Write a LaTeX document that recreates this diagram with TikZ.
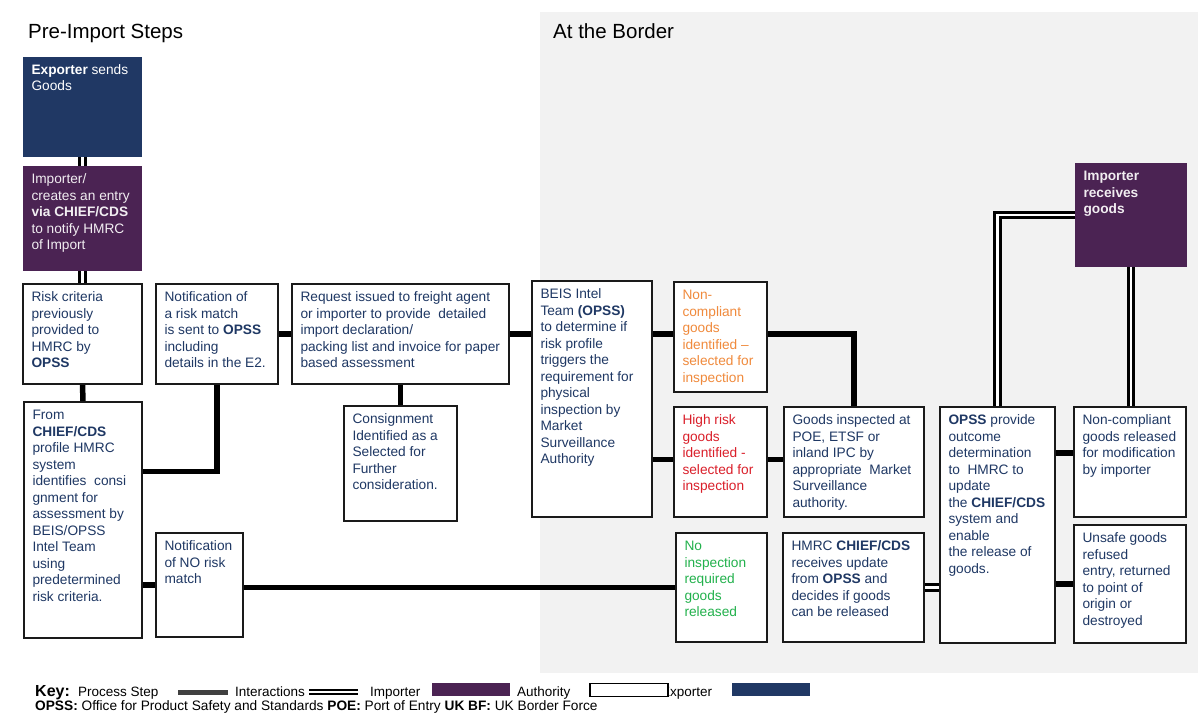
\documentclass[tikz,border=0pt]{standalone}
\usepackage{fontspec}
\setmainfont{Liberation Sans}
\definecolor{navy}{HTML}{1F3864}
\definecolor{expfill}{HTML}{203864}
\definecolor{impfill}{HTML}{4B2353}
\definecolor{orangetxt}{HTML}{F08A3C}
\definecolor{redtxt}{HTML}{DA1F2A}
\definecolor{greentxt}{HTML}{22B14C}
\definecolor{bggray}{HTML}{F2F2F2}
\definecolor{borderc}{HTML}{1A1A1A}
\definecolor{keybar}{HTML}{404040}
\pgfdeclarelayer{back}
\pgfdeclarelayer{links}
\pgfsetlayers{back,links,main}
\tikzset{
  stepbox/.style={rectangle, draw=borderc, line width=1.7pt, fill=white, inner sep=0pt, outer sep=0pt},
  impbox/.style={rectangle, draw=none, fill=impfill, inner sep=0pt, outer sep=0pt},
  expbox/.style={rectangle, draw=none, fill=expfill, inner sep=0pt, outer sep=0pt},
  boxtxt/.style={inner sep=0pt, outer sep=0pt, align=left, font=\fontsize{13.7}{16.5}\selectfont},
  proc/.style={line width=5.5pt, draw=black},
  inter/.style={draw=black, line width=2.8pt, double=white, double distance=2.6pt},
  title/.style={inner sep=0pt, anchor=base west, font=\fontsize{20.5}{24}\selectfont},
  keytxt/.style={inner sep=0pt, anchor=base west, font=\fontsize{13.5}{16}\selectfont},
}
% name, x1, y1, x2, y2, box style, text colour, text
\newcommand\mybox[8]{%
  \node[#6, anchor=north west, minimum width={#4-#2}, minimum height={#5-#3}] (#1) at (#2,#3) {};
  \node[boxtxt, text=#7, anchor=north west] (#1txt) at ([xshift=8.5pt,yshift=-6.5pt]#1.north west) {\rule{0pt}{11pt}#8};
}
\begin{document}
\begin{tikzpicture}[x=1pt,y=-1pt]
\useasboundingbox (0,0) rectangle (1198,714);
\begin{pgfonlayer}{back}
  \fill[bggray] (540,12) rectangle (1198,673);
\end{pgfonlayer}

\node[title] (t1) at (28,39) {Pre-Import Steps};
\node[title] (t2) at (553,39) {At the Border};

\mybox{exp}{23}{57}{142}{157}{expbox}{white}{\textbf{Exporter} sends\\Goods}
\mybox{imp}{23}{166}{142}{271}{impbox}{white!92!impfill}{Importer/\\creates an entry\\\textbf{via CHIEF/CDS}\\to notify HMRC\\of Import}
\mybox{risk}{23}{284}{142}{384}{stepbox}{navy}{Risk criteria\\previously\\provided to\\HMRC by\\\textbf{OPSS}}
\mybox{from}{24}{402}{142}{638}{stepbox}{navy}{From\\\textbf{CHIEF/CDS}\\profile HMRC\\system\\identifies\ \ consi\\gnment for\\assessment by\\BEIS/OPSS\\Intel Team\\using\\predetermined\\risk criteria.}
\mybox{notif}{156}{284}{278}{384}{stepbox}{navy}{Notification of\\a risk match\\is sent to \textbf{OPSS}\\including\\details in the E2.}
\mybox{notifno}{156}{533}{243}{637}{stepbox}{navy}{Notification\\of NO risk\\match}
\mybox{request}{292}{284}{509}{384}{stepbox}{navy}{Request issued to freight agent\\or importer to provide\ \ detailed\\import declaration/\\packing list and invoice for paper\\based assessment}
\mybox{consign}{344}{406}{457}{521}{stepbox}{navy}{Consignment\\Identified as a\\Selected for\\Further\\consideration.}
\mybox{beis}{532}{281}{652}{517}{stepbox}{navy}{BEIS Intel\\Team \textbf{(OPSS)}\\to determine if\\risk profile\\triggers the\\requirement for\\physical\\inspection by\\Market\\Surveillance\\Authority}
\mybox{nc}{674}{282}{767}{392}{stepbox}{orangetxt}{Non-\\compliant\\goods\\identified --\\selected for\\inspection}
\mybox{hr}{674}{407}{767}{517}{stepbox}{redtxt}{High risk\\goods\\identified -\\selected for\\inspection}
\mybox{noinsp}{676}{533}{767}{642}{stepbox}{greentxt}{No\\inspection\\required\\goods\\released}
\mybox{goods}{784}{407}{924}{517}{stepbox}{navy}{Goods inspected at\\POE, ETSF or\\inland IPC by\\appropriate\ \ Market\\Surveillance\\authority.}
\mybox{hmrc}{783}{533}{924}{642}{stepbox}{navy}{HMRC \textbf{CHIEF/CDS}\\receives update\\from \textbf{OPSS} and\\decides if goods\\can be released}
\mybox{opss}{940}{407}{1055}{643}{stepbox}{navy}{\textbf{OPSS} provide\\outcome\\determination\\to\ \ HMRC to\\update\\the \textbf{CHIEF/CDS}\\system and\\enable\\the release of\\goods.}
\mybox{ncr}{1074}{407}{1186}{517}{stepbox}{navy}{Non-compliant\\goods released\\for modification\\by importer}
\mybox{unsafe}{1074}{525}{1186}{643}{stepbox}{navy}{Unsafe goods\\refused\\entry, returned\\to point of\\origin or\\destroyed}
\mybox{imprec}{1075}{163}{1187}{267}{impbox}{white!92!impfill}{\textbf{Importer}\\\textbf{receives}\\\textbf{goods}}

\begin{pgfonlayer}{links}
  \draw[inter] (exp.south) -- (imp.north);
  \draw[inter] (imp.south) -- (risk.north);
  \draw[proc] (risk.south) -- (from.north);
  \draw[proc] (notif.south) |- ([yshift=-69.5pt]from.north east);
  \draw[proc] (notif.east) -- (notif.east -| request.west);
  \draw[proc] (request.south) -- (request.south |- consign.north);
  \draw[proc] (request.east) -- (request.east -| beis.west);
  \draw[proc] ([yshift=3pt]nc.west -| beis.east) -- ([yshift=3pt]nc.west);
  \draw[proc] ([yshift=3pt]nc.east) -| (goods.north);
  \draw[proc] ([yshift=2.5pt]hr.west -| beis.east) -- ([yshift=2.5pt]hr.west);
  \draw[proc] ([yshift=2.5pt]hr.east) -- ([yshift=2.5pt]hr.east -| goods.west);
  \draw[proc] (notifno.west -| from.east) -- (notifno.west);
  \draw[proc] ([yshift=-2.5pt]notifno.east) -- ([yshift=-2.5pt]notifno.east -| noinsp.west);
  \draw[inter] (hmrc.east) -- (hmrc.east -| opss.west);
  \draw[proc] ([yshift=9pt]ncr.west -| opss.east) -- ([yshift=9pt]ncr.west);
  \draw[proc] (unsafe.west -| opss.east) -- (unsafe.west);
  \draw[inter] (opss.north) |- (imprec.west);
  \draw[inter] (imprec.south) -- (imprec.south |- ncr.north);
\end{pgfonlayer}

% key
\node[inner sep=0pt, anchor=base west, font=\fontsize{16}{18}\selectfont\bfseries] (keylab) at (35,696) {Key:};
\node[keytxt] (kproc) at (78,696) {Process Step};
\fill[keybar] (178,689.5) rectangle (228,694.5);
\node[keytxt] (kint) at (235,696) {Interactions};
\draw[draw=black, line width=2.4pt, double=white, double distance=2pt] (309,692) -- (358,692);
\node[keytxt] (kimp) at (370,696) {Importer};
\fill[impfill] (432,683) rectangle (510,696);
\node[keytxt] (kauth) at (517,696) {Authority};
\node[keytxt] (kexp) at (661,696) {Exporter};
\draw[fill=white, draw=black, line width=1.3pt] (590,683.5) rectangle (668,696.5);
\fill[expfill] (732,683) rectangle (810,696);
\node[inner sep=0pt, anchor=base west, font=\fontsize{13.7}{15}\selectfont] (kabbr) at (35,710) {\textbf{OPSS:} Office for Product Safety and Standards \textbf{POE:} Port of Entry \textbf{UK BF:} UK Border Force};
\end{tikzpicture}
\end{document}
